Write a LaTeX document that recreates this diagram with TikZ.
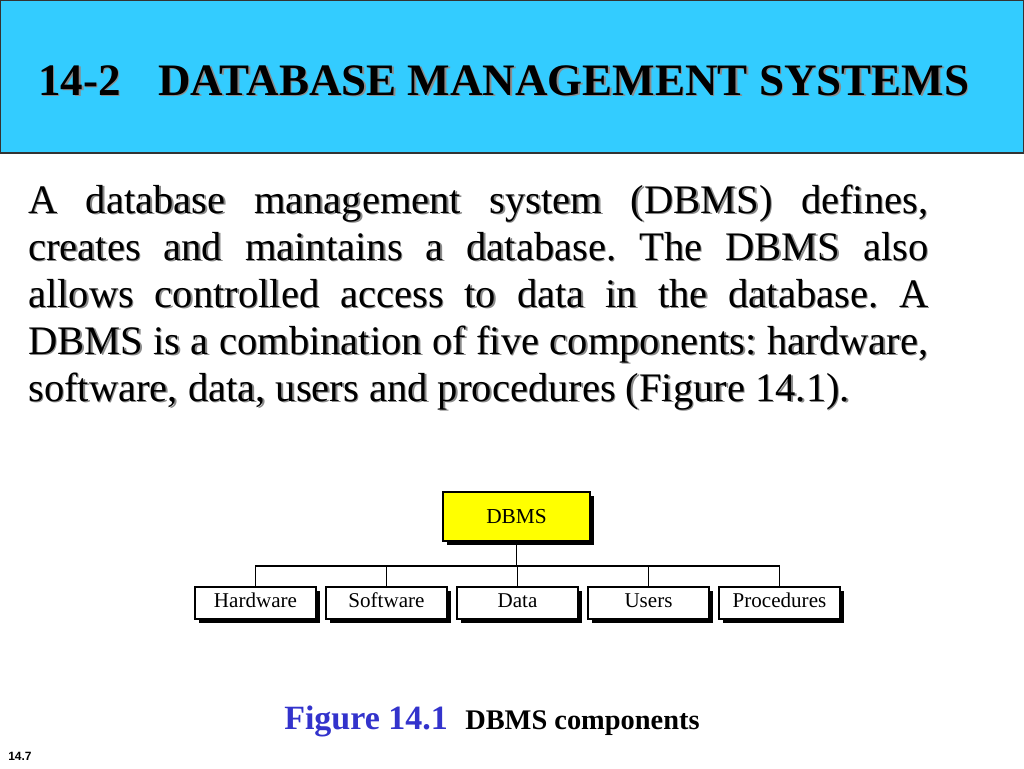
\documentclass[tikz,border=0pt]{standalone}
\usepackage{fontspec}
\setmainfont{Liberation Serif}
\newfontfamily\labelsans{Liberation Sans}
\definecolor{titlecyan}{HTML}{33CCFF}
\definecolor{dbyellow}{HTML}{FFFF00}
\definecolor{figblue}{HTML}{3333CC}
\definecolor{shadowgray}{HTML}{8C8C8C}
\tikzset{
  txt/.style={inner sep=0pt, anchor=base west},
  bodyfont/.style={font=\fontsize{30.4pt}{34pt}\selectfont},
  titlefont/.style={font=\fontsize{33.75pt}{38pt}\selectfont\bfseries},
  compbox/.style={draw=black, line width=0.9pt, fill=white, minimum width=90.75pt, minimum height=24pt, inner sep=0pt, text height=10.5pt, text depth=3.5pt, font=\fontsize{15.8pt}{17pt}\selectfont},
  boxshadow/.style={fill=black, draw=none},
  conn/.style={draw=black, line width=0.8pt},
}
\newcommand{\bodyline}[3]{%
  \node[txt, bodyfont, text=shadowgray] (#1s) at (29.5,#2+1.5) {#3};
  \node[txt, bodyfont] (#1) at (28,#2) {#3};}
\begin{document}
\frenchspacing
\begin{tikzpicture}[x=0.75pt,y=-0.75pt]
\useasboundingbox (0,0) rectangle (1024,768);
\fill[white] (0,0) rectangle (1024,768);
% title bar
\draw[fill=titlecyan, draw=black!80, line width=0.8pt] (0.5,0.5) rectangle (1023.5,153);
\node[txt, titlefont, text=shadowgray] (t1s) at (39.5,96.5) {14-2};
\node[txt, titlefont] (t1) at (38,95) {14-2};
\node[txt, titlefont, text=shadowgray] (t2s) at (159.5,96.5) {DATABASE MANAGEMENT SYSTEMS};
\node[txt, titlefont] (t2) at (158,95) {DATABASE MANAGEMENT SYSTEMS};
% body text
\bodyline{l1}{213}{\makebox[675pt][s]{A database management system (DBMS) defines,}}
\bodyline{l2}{260}{\makebox[675pt][s]{creates and maintains a database. The DBMS also}}
\bodyline{l3}{307}{\makebox[675pt][s]{allows controlled access to data in the database. A}}
\bodyline{l4}{354}{\makebox[675pt][s]{DBMS is a combination of five components: hardware,}}
\bodyline{l5}{401}{software, data, users and procedures (Figure 14.1).}
% diagram
\fill[boxshadow] (447,496) rectangle (594,545);
\node[draw=black, line width=0.9pt, fill=dbyellow, minimum width=110.25pt, minimum height=36.75pt, inner sep=0pt, font=\fontsize{16pt}{18pt}\selectfont] (dbms) at (516.5,516.5) {DBMS};
\foreach \n/\t/\cx in {hw/Hardware/255.5, sw/Software/386.5, da/Data/517.5, us/Users/648.5, pr/Procedures/779.5}{
  \fill[boxshadow] (\cx-60.5+4,587+4) rectangle (\cx+60.5+4,619+4);
  \node[compbox] (\n) at (\cx,603) {\t};
}
\coordinate (bus) at (516.5,566);
\draw[conn] (dbms.south) -- (bus);
\draw[conn] (hw.north) |- (bus) -| (pr.north);
\draw[conn] (sw.north) -- (sw.north |- bus);
\draw[conn] (da.north) -- (da.north |- bus);
\draw[conn] (us.north) -- (us.north |- bus);
% caption
\node[txt, font=\fontsize{25.5pt}{28pt}\selectfont\bfseries, text=figblue] (fig) at (284,729) {Figure 14.1};
\node[txt, font=\fontsize{21.3pt}{24pt}\selectfont\bfseries] (figcap) at (465,729) {DBMS components};
\node[txt, font=\labelsans\fontsize{9pt}{10pt}\selectfont\bfseries] (pg) at (8,760) {14.7};
\end{tikzpicture}
\end{document}
